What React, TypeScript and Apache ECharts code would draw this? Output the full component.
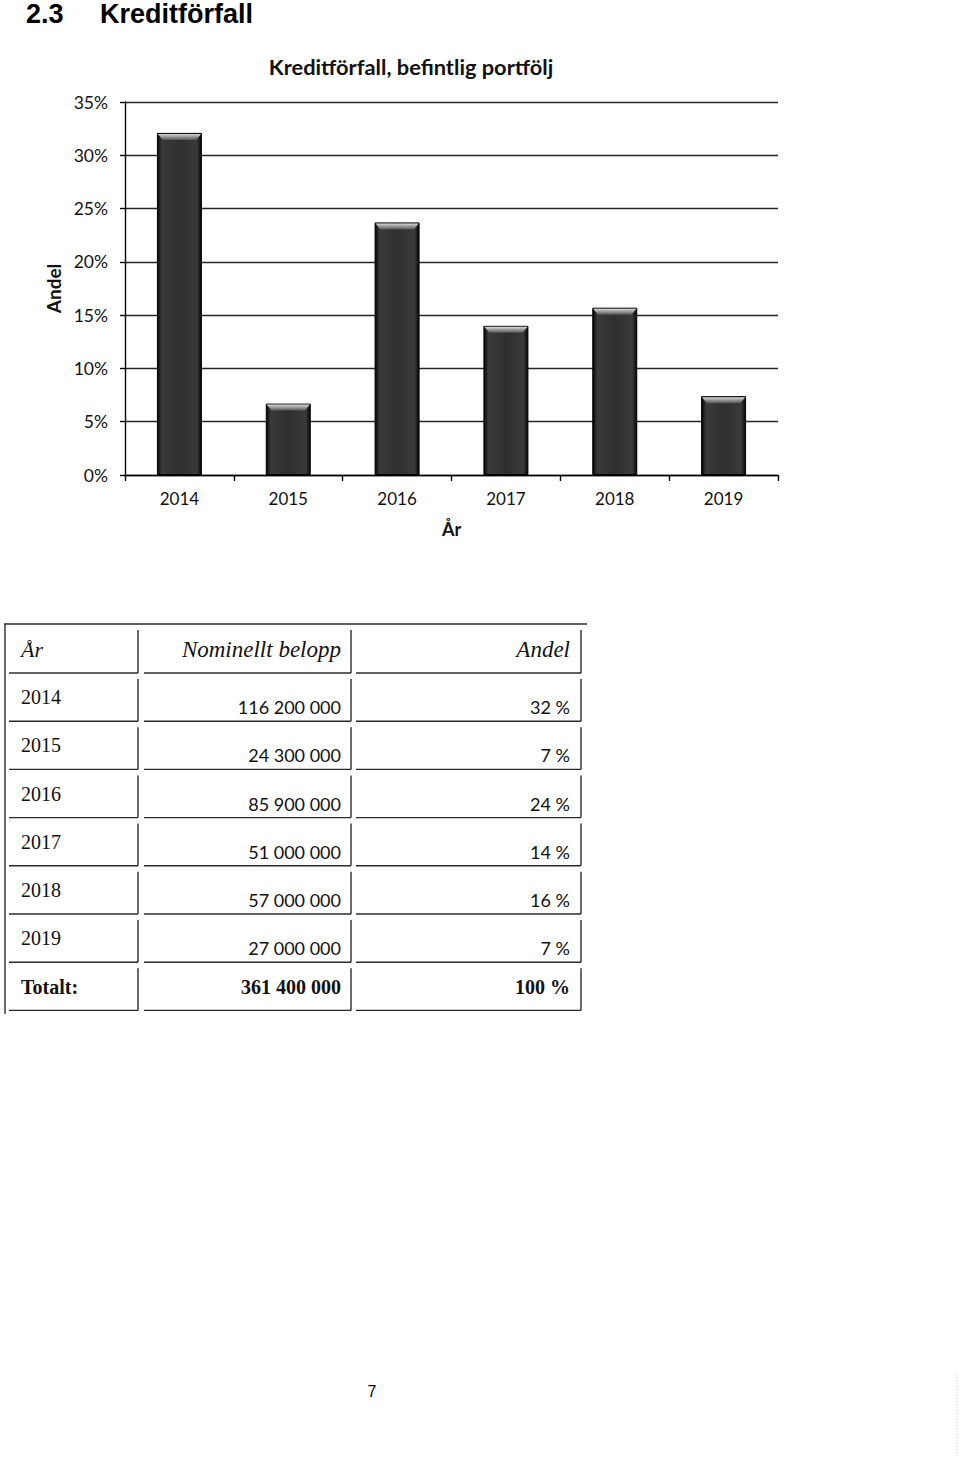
import React, { useEffect, useRef } from "react";
import * as echarts from "echarts";

const sectionNumber = "2.3";
const sectionTitle = "Kreditförfall";
const chartTitle = "Kreditförfall, befintlig portfölj";
const xAxisName = "År";
const yAxisName = "Andel";
const years = ["2014", "2015", "2016", "2017", "2018", "2019"];
const shareValues = [0.321, 0.067, 0.237, 0.14, 0.157, 0.074];
const tableHeaders = ["År", "Nominellt belopp", "Andel"];
const amounts = [116200000, 24300000, 85900000, 51000000, 57000000, 27000000];
const sharesPct = [32, 7, 24, 14, 16, 7];
const totalLabel = "Totalt:";
const totalAmount = 361400000;
const totalPct = 100;
const pageNumber = "7";

const CAL = "Lato, 'Open Sans', sans-serif";
const SERIF = "'Liberation Serif', 'DejaVu Serif', serif";
const LINE = "#2b2b2b";

function fmt(n: number): string {
  return String(n).replace(/\B(?=(\d{3})+(?!\d))/g, " ");
}

function buildTable(): any[] {
  const els: any[] = [];
  const line = (x1: number, y1: number, x2: number, y2: number) =>
    els.push({
      type: "line",
      shape: { x1, y1, x2, y2 },
      style: { stroke: LINE, lineWidth: 1.4 },
      silent: true,
    });
  const text = (t: string, x: number, y: number, align: string, font: string, size: number, weight = "normal", italic = false) =>
    els.push({
      type: "text",
      x,
      y,
      style: {
        text: t,
        fill: "#111",
        font: `${italic ? "italic " : ""}${weight} ${size}px ${font}`,
        align,
        verticalAlign: "middle",
      },
      silent: true,
    });

  const col1R = 138;
  const col2L = 144;
  const col2R = 351;
  const col3L = 356;
  const col3R = 581;
  const tableTop = 624;
  const headerBottom = 673;
  const rowH = 48.2;

  line(4, tableTop, 587, tableTop);
  line(5, tableTop, 5, 1014);

  line(col1R, tableTop + 6, col1R, headerBottom);
  line(col2R, tableTop + 6, col2R, headerBottom);
  line(col3R, tableTop + 6, col3R, headerBottom);
  line(9, headerBottom, col1R, headerBottom);
  line(col2L, headerBottom, col2R, headerBottom);
  line(col3L, headerBottom, col3R, headerBottom);
  text(tableHeaders[0], 21, headerBottom - 24, "left", SERIF, 22, "normal", true);
  text(tableHeaders[1], 341, headerBottom - 24, "right", SERIF, 23, "normal", true);
  text(tableHeaders[2], 570, headerBottom - 24, "right", SERIF, 23, "normal", true);

  const rowCount = years.length + 1;
  for (let i = 0; i < rowCount; i++) {
    const top = headerBottom + rowH * i;
    const bottom = headerBottom + rowH * (i + 1);
    line(col1R, top + 6, col1R, bottom);
    line(col2R, top + 6, col2R, bottom);
    line(col3R, top + 6, col3R, bottom);
    line(9, bottom, col1R, bottom);
    line(col2L, bottom, col2R, bottom);
    line(col3L, bottom, col3R, bottom);
    if (i < years.length) {
      text(years[i], 21, bottom - 24, "left", SERIF, 20);
      text(fmt(amounts[i]), 341, bottom - 14, "right", CAL, 18);
      text(`${sharesPct[i]} %`, 570, bottom - 14, "right", CAL, 18);
    } else {
      text(totalLabel, 21, bottom - 23, "left", SERIF, 20, "bold");
      text(fmt(totalAmount), 341, bottom - 23, "right", SERIF, 20, "bold");
      text(`${totalPct} %`, 570, bottom - 23, "right", SERIF, 20, "bold");
    }
  }
  return els;
}

export default function App() {
  const ref = useRef<HTMLDivElement>(null);
  useEffect(() => {
    if (!ref.current) return;
    const chart = echarts.init(ref.current, undefined, { renderer: "svg" });
    const barGradient = new echarts.graphic.LinearGradient(0, 0, 1, 0, [
      { offset: 0, color: "#050505" },
      { offset: 0.1, color: "#3a3a3a" },
      { offset: 0.5, color: "#2f2f2f" },
      { offset: 0.9, color: "#3a3a3a" },
      { offset: 1, color: "#050505" },
    ]);
    const bevelGradient = new echarts.graphic.LinearGradient(0, 0, 0, 1, [
      { offset: 0, color: "#d8d8d8" },
      { offset: 1, color: "#555555" },
    ]);
    chart.setOption({
      animation: false,
      backgroundColor: "#ffffff",
      textStyle: { fontFamily: CAL },
      grid: { left: 125, top: 102, width: 653, height: 373, containLabel: false },
      xAxis: {
        type: "category",
        data: years,
        name: xAxisName,
        nameLocation: "middle",
        nameGap: 45,
        nameTextStyle: { fontSize: 18, fontWeight: "bold", color: "#111", fontFamily: CAL },
        axisLine: { show: true, lineStyle: { color: "#000", width: 1.4 } },
        axisTick: { show: true, length: 6, lineStyle: { color: "#000", width: 1.4 } },
        axisLabel: { fontSize: 17, color: "#111", margin: 15, fontFamily: CAL },
        splitLine: { show: false },
      },
      yAxis: {
        type: "value",
        min: 0,
        max: 0.35,
        interval: 0.05,
        name: yAxisName,
        nameLocation: "middle",
        nameRotate: 90,
        nameGap: 52,
        nameTextStyle: { fontSize: 19, fontWeight: "bold", color: "#111", fontFamily: CAL },
        axisLine: { show: true, lineStyle: { color: "#000", width: 1.4 } },
        axisTick: { show: true, length: 5, lineStyle: { color: "#000", width: 1.4 } },
        axisLabel: {
          fontSize: 17.5,
          color: "#111",
          margin: 17,
          fontFamily: CAL,
          formatter: (v: number) => `${Math.round(v * 100)}%`,
        },
        splitLine: { show: true, lineStyle: { color: "#262626", width: 1.3 } },
      },
      series: [
        {
          type: "bar",
          data: shareValues,
          barWidth: 45,
          itemStyle: { color: barGradient, borderColor: "#000", borderWidth: 1 },
          z: 2,
        },
        {
          type: "pictorialBar",
          data: shareValues,
          symbol: "path://M0,0 L45,0 L40,6 L5,6 Z",
          symbolSize: [43, 6],
          symbolPosition: "end",
          symbolOffset: [0, 1],
          itemStyle: { color: bevelGradient },
          z: 3,
          silent: true,
        },
      ],
      graphic: [
        {
          type: "text",
          x: 26,
          y: 14,
          style: {
            text: sectionNumber,
            font: "bold 27px 'Liberation Sans', Arial, sans-serif",
            fill: "#000",
            verticalAlign: "middle",
          },
        },
        {
          type: "text",
          x: 100,
          y: 14,
          style: {
            text: sectionTitle,
            font: "bold 27px 'Liberation Sans', Arial, sans-serif",
            fill: "#000",
            verticalAlign: "middle",
          },
        },
        {
          type: "text",
          x: 411,
          y: 66,
          style: {
            text: chartTitle,
            font: `bold 21.8px ${CAL}`,
            fill: "#111",
            align: "center",
            verticalAlign: "middle",
          },
        },
        ...buildTable(),
        {
          type: "text",
          x: 372,
          y: 1391,
          style: {
            text: pageNumber,
            font: "16px 'Liberation Sans', Arial, sans-serif",
            fill: "#000",
            align: "center",
            verticalAlign: "middle",
          },
        },
        {
          type: "line",
          shape: { x1: 957, y1: 1374, x2: 957, y2: 1456 },
          style: { stroke: "#c8c8c8", lineWidth: 1, lineDash: [1, 2] },
          silent: true,
        },
      ],
    });
    return () => chart.dispose();
  }, []);
  return (
    <div
      ref={ref}
      style={{ position: "absolute", left: 0, top: 0, width: 960, height: 1461, background: "#fff" }}
    />
  );
}
